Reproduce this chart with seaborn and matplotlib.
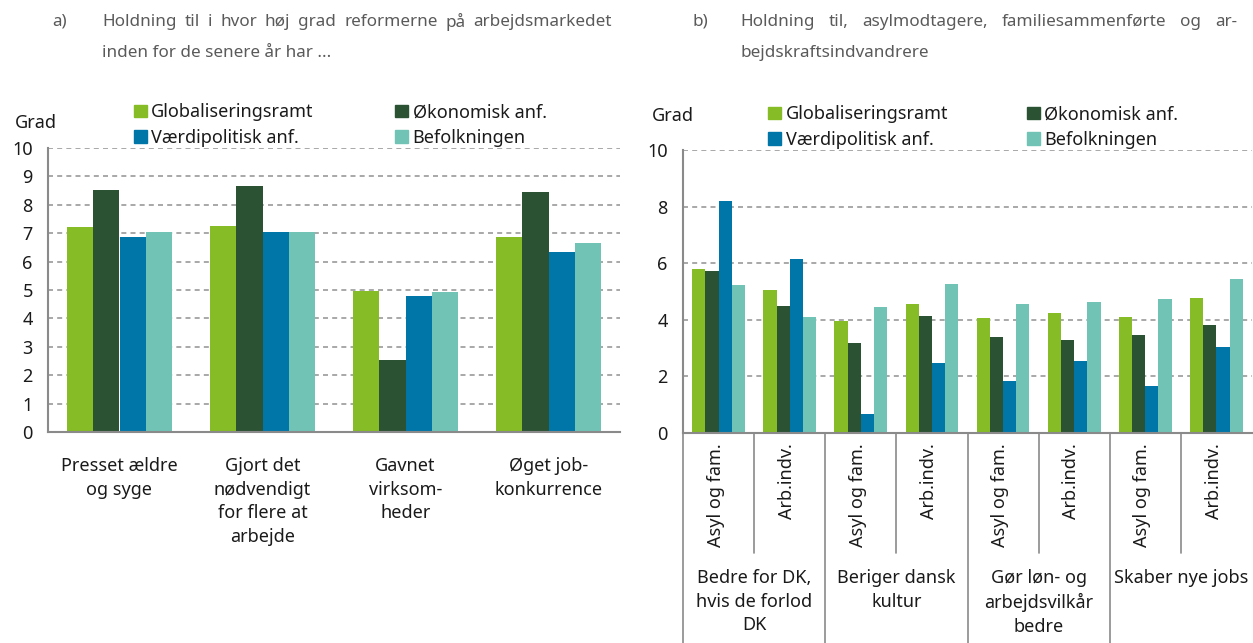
import matplotlib
matplotlib.use("Agg")
import matplotlib.pyplot as plt
import matplotlib.transforms as mtransforms
from matplotlib.patches import Patch
import numpy as np
import pandas as pd
import seaborn as sns

# data
series = ["Globaliseringsramt", "Økonomisk anf.", "Værdipolitisk anf.", "Befolkningen"]
colors = ["#86bc25", "#2c5234", "#0076a8", "#71c3b5"]

cats_a = ["Presset ældre\nog syge", "Gjort det\nnødvendigt\nfor flere at\narbejde",
          "Gavnet\nvirksom-\nheder", "Øget job-\nkonkurrence"]
glob_a = [7.21, 7.25, 4.96, 6.87]
okon_a = [8.52, 8.65, 2.55, 8.46]
vaerd_a = [6.88, 7.05, 4.79, 6.35]
befolk_a = [7.05, 7.05, 4.92, 6.65]

sub_b = ["Asyl og fam.", "Arb.indv."]
groups_b = ["Bedre for DK,\nhvis de forlod\nDK", "Beriger dansk\nkultur",
            "Gør løn- og\narbejdsvilkår\nbedre", "Skaber nye jobs"]
glob_b = [5.80, 5.05, 3.97, 4.55, 4.06, 4.24, 4.11, 4.76]
okon_b = [5.73, 4.50, 3.18, 4.13, 3.39, 3.28, 3.48, 3.82]
vaerd_b = [8.21, 6.15, 0.67, 2.48, 1.84, 2.54, 1.65, 3.03]
befolk_b = [5.23, 4.10, 4.45, 5.28, 4.57, 4.64, 4.75, 5.44]

title_a = ["Holdning til i hvor høj grad reformerne på arbejdsmarkedet",
           "inden for de senere år har ..."]
title_b = ["Holdning til, asylmodtagere, familiesammenførte og ar-",
           "bejdskraftsindvandrere"]


def long_frame(values, n):
    rows = []
    for s, vals in zip(series, values):
        for i in range(n):
            rows.append({"pos": i, "serie": s, "value": vals[i]})
    return pd.DataFrame(rows)


df_a = long_frame([glob_a, okon_a, vaerd_a, befolk_a], len(cats_a))
df_b = long_frame([glob_b, okon_b, vaerd_b, befolk_b], len(glob_b))

sns.set_style("white")
plt.rcParams["font.family"] = ["Noto Sans", "DejaVu Sans"]
FS = 13
GRAY = "#8a8a8a"
TXT = "#1a1a1a"

W, H = 1253, 643
fig = plt.figure(figsize=(W / 100, H / 100), dpi=100)


def px_axes(x0, x1, y0, y1):
    # pixel box -> figure fraction
    return fig.add_axes([x0 / W, 1 - y0 / H, (x1 - x0) / W, (y0 - y1) / H])


ax_a = px_axes(48, 620, 432, 148)
ax_b = px_axes(683, 1252, 433, 150)

for ax, d, cs in [(ax_a, df_a, 4.5), (ax_b, df_b, 4.35)]:
    sns.barplot(data=d, x="pos", y="value", hue="serie", hue_order=series,
                palette=colors, saturation=1, width=0.74, ax=ax, legend=False,
                edgecolor="none", linewidth=0)
    ax.set_ylim(0, 10)
    ax.set_xlabel("")
    ax.set_ylabel("")
    for s in ["top", "right"]:
        ax.spines[s].set_visible(False)
    for s in ["left", "bottom"]:
        ax.spines[s].set_color(GRAY)
        ax.spines[s].set_linewidth(1.5)
    ax.yaxis.grid(True, color="#9a9a9a", linestyle=(0, (3, 2.5)), linewidth=1.2)
    ax.set_axisbelow(True)
    ax.tick_params(axis="y", length=5, color=GRAY, width=1.2, pad=6,
                   labelsize=FS, labelcolor=TXT)
    leg_handles = [Patch(color=colors[i], label=series[i]) for i in [0, 2, 1, 3]]
    ax.legend(handles=leg_handles, ncol=2, frameon=False, loc="lower left",
              bbox_to_anchor=(0.15, 1.005), borderaxespad=0, borderpad=0,
              fontsize=FS, handlelength=0.72, handleheight=0.72,
              handletextpad=0.25, labelspacing=0.4, columnspacing=cs,
              labelcolor=TXT)

# panel a axis
ax_a.set_xlim(-0.5, len(cats_a) - 0.5)
ax_a.set_yticks(range(0, 11))
ax_a.set_xticks(range(len(cats_a)))
ax_a.set_xticklabels(cats_a, fontsize=FS, color=TXT, linespacing=1.4, va="top")
ax_a.set_xticks(np.arange(-0.5, len(cats_a)), minor=True)
ax_a.tick_params(axis="x", which="major", length=0, pad=18)
ax_a.tick_params(axis="x", which="minor", length=8, color=GRAY, width=1.2)

# panel b axis
nb = len(glob_b)
ax_b.set_xlim(-0.5, nb - 0.5)
ax_b.set_yticks(range(0, 11, 2))
ax_b.set_xticks([])
trans = mtransforms.blended_transform_factory(ax_b.transData, ax_b.transAxes)
y_sub = (433 - 553) / 283
y_bot = (433 - 645) / 283
for k in range(nb + 1):
    xk = k - 0.5
    yk = y_bot if k % 2 == 0 else y_sub
    if xk > nb - 0.6:
        continue
    ax_b.plot([xk, xk], [0, yk], transform=trans, color=GRAY, lw=1.2, clip_on=False)
for i in range(nb):
    ax_b.text(i - 0.04, -10 / 283, sub_b[i % 2], transform=trans, rotation=90,
              ha="center", va="top", fontsize=FS, color=TXT)
for g, lab in enumerate(groups_b):
    ax_b.text(2 * g + 0.5, -136 / 283, lab, transform=trans, ha="center",
              va="top", fontsize=FS, color=TXT, linespacing=1.4)

fig.text(15 / W, 1 - 123 / H, "Grad", fontsize=FS, color=TXT, va="center")
fig.text(652 / W, 1 - 116 / H, "Grad", fontsize=FS, color=TXT, va="center")

# titles, first line justified
renderer = fig.canvas.get_renderer()
TFS = 12.3
TCOL = "#5a5a5a"


def justified(line, x0, x1, y):
    words = line.split(" ")
    items = [fig.text(0, 1 - y / H, w, fontsize=TFS, color=TCOL, va="center")
             for w in words]
    widths = [t.get_window_extent(renderer).width for t in items]
    gap = (x1 - x0 - sum(widths)) / (len(words) - 1)
    x = x0
    for t, w in zip(items, widths):
        t.set_x(x / W)
        x += w + gap


for lab, x_lab, x0, x1, lines in [("a)", 52, 102, 612, title_a),
                                  ("b)", 692, 740, 1237, title_b)]:
    fig.text(x_lab / W, 1 - 22 / H, lab, fontsize=TFS, color=TCOL, va="center")
    justified(lines[0], x0, x1, 22)
    fig.text(x0 / W, 1 - 53 / H, lines[1], fontsize=TFS, color=TCOL, va="center")

fig.savefig("out.png", dpi=100)
